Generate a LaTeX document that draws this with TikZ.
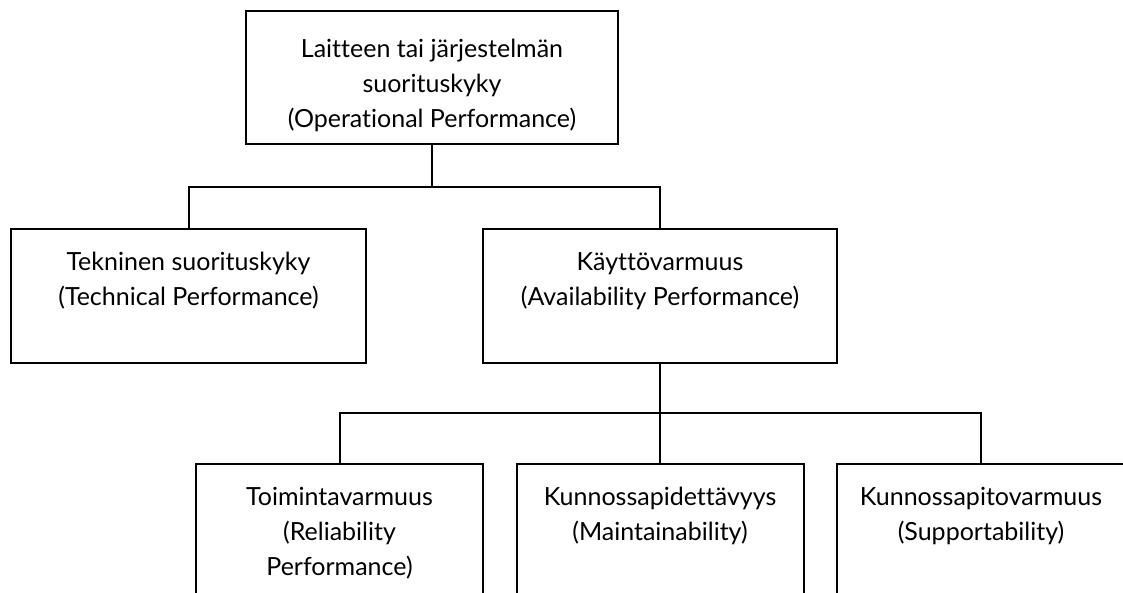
\documentclass[tikz,border=0pt]{standalone}
\usepackage{fontspec}
\setmainfont{Lato}[Ligatures={NoCommon}]
\usetikzlibrary{calc}
\begin{document}
\begin{tikzpicture}[x=1pt,y=-1pt,
  box/.style={draw=black, line width=2pt, fill=white, inner sep=0pt, outer sep=0pt,
              minimum width=#1, rectangle},
  txt/.style={inner sep=0pt, anchor=base, font=\fontsize{25}{35}\selectfont, text=black},
  link/.style={line width=2pt, draw=black}
]
\useasboundingbox (0,0) rectangle (1123,592);
\fill[white] (0,0) rectangle (1123,592);
\clip (0,0) rectangle (1123,592);

% top level
\node[box=372pt, minimum height=133pt] (top) at (432,77.5) {};
\node[txt] (t1) at ($(top.north)+(0,46)$) {Laitteen tai järjestelmän};
\node[txt] (t2) at ($(top.north)+(0,81)$) {suorituskyky};
\node[txt] (t3) at ($(top.north)+(0,116)$) {(Operational Performance)};

% second level
\node[box=355pt, minimum height=134pt] (tech) at (188.5,296) {};
\node[txt] (a1) at ($(tech.north)+(0,41)$) {Tekninen suorituskyky};
\node[txt] (a2) at ($(tech.north)+(0,76)$) {(Technical Performance)};

\node[box=354pt, minimum height=134pt] (avail) at (660,296) {};
\node[txt] (b1) at ($(avail.north)+(0,41)$) {Käyttövarmuus};
\node[txt] (b2) at ($(avail.north)+(0,76)$) {(Availability Performance)};

% third level
\node[box=287pt, minimum height=180pt] (rel) at (339.5,554) {};
\node[txt] (c1) at ($(rel.north)+(0,41)$) {Toimintavarmuus};
\node[txt] (c2) at ($(rel.north)+(0,76)$) {(Reliability};
\node[txt] (c3) at ($(rel.north)+(0,111)$) {Performance)};

\node[box=287pt, minimum height=180pt] (maint) at (660,554) {};
\node[txt] (d1) at ($(maint.north)+(0,41)$) {Kunnossapidettävyys};
\node[txt] (d2) at ($(maint.north)+(0,76)$) {(Maintainability)};

\node[box=288pt, minimum height=180pt] (supp) at (981,554) {};
\node[txt] (e1) at ($(supp.north)+(0,41)$) {Kunnossapitovarmuus};
\node[txt] (e2) at ($(supp.north)+(0,76)$) {(Supportability)};

% connectors
\coordinate (j1) at (top.south |- 0,187);
\coordinate (j2) at (avail.south |- 0,413);
\draw[link] (top.south) -- (j1);
\draw[link] (tech.north) |- (j1) -| (avail.north);
\draw[link] (avail.south) -- (j2);
\draw[link] (rel.north) |- (j2) -| (supp.north);
\draw[link] (j2) -- (maint.north);
\end{tikzpicture}
\end{document}
